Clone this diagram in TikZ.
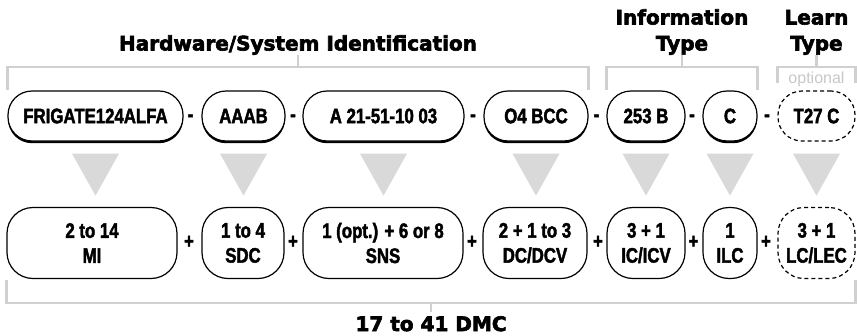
\documentclass[tikz,border=0pt]{standalone}
\usepackage{fontspec}
\usetikzlibrary{shadows,calc}
\newfontfamily\segfont[FakeStretch=0.8, BoldFeatures={FakeBold=2}]{Liberation Sans}
\newfontfamily\notefont{Liberation Sans}
\newfontfamily\headfont[BoldFeatures={FakeBold=3}]{DejaVu Sans}
\definecolor{linegrey}{RGB}{208,208,208}
\definecolor{wedgegrey}{RGB}{217,217,217}
\tikzstyle{field}=[draw, fill=white, line width=1.2pt, inner sep=0pt, align=center,
  font=\segfont\bfseries\fontsize{21}{25}\selectfont]
\tikzstyle{segment}=[field, minimum height=50pt, rounded corners=24pt,
  drop shadow={shadow xshift=0pt, shadow yshift=-2.2pt, fill=black, opacity=1}]
\tikzstyle{optsegment}=[field, minimum height=50pt, rounded corners=24pt,
  dash pattern=on 4pt off 3pt]
\tikzstyle{part}=[field, minimum height=71pt, rounded corners=26pt]
\tikzstyle{optpart}=[part, dash pattern=on 4pt off 3pt]
\tikzstyle{joiner}=[inner sep=0pt, font=\segfont\bfseries\fontsize{21}{25}\selectfont]
\tikzstyle{heading}=[inner sep=0pt, align=center,
  font=\headfont\bfseries\fontsize{20}{26}\selectfont]
\tikzstyle{bracket}=[draw=linegrey, line width=2.5pt]
\newcommand{\idsegment}[4]{node (t#1) [#2, minimum width=#3pt] {#4}}
\newcommand{\dmcpart}[4]{node (b#1) [#2, minimum width=#3pt] {#4}}

\begin{document}
\begin{tikzpicture}[x=1pt,y=-1pt]
  \useasboundingbox (0,0) rectangle (857,335);
  % data module code as written
  \path (95.5,116) \idsegment{1}{segment}{175}{FRIGATE124ALFA};
  \path (243.5,116) \idsegment{2}{segment}{83}{AAAB};
  \path (383.5,116) \idsegment{3}{segment}{161}{A 21-51-10 03};
  \path (536,116) \idsegment{4}{segment}{104}{O4 BCC};
  \path (646,116) \idsegment{5}{segment}{78}{253 B};
  \path (730,116) \idsegment{6}{segment}{54}{C};
  \path (816.5,116) \idsegment{7}{optsegment}{77}{T27 C};
  % number of characters per part
  \path (92,243) \dmcpart{1}{part}{170}{2 to 14\\MI};
  \path (243,243) \dmcpart{2}{part}{82}{1 to 4\\SDC};
  \path (383,243) \dmcpart{3}{part}{160}{1 (opt.) + 6 or 8\\SNS};
  \path (535,243) \dmcpart{4}{part}{104}{2 + 1 to 3\\DC/DCV};
  \path (646,243) \dmcpart{5}{part}{78}{3 + 1\\IC/ICV};
  \path (730,243) \dmcpart{6}{part}{54}{1\\ILC};
  \path (816.5,243) \dmcpart{7}{optpart}{77}{3 + 1\\LC/LEC};

  \foreach \x [count=\i] in {190.5,293,473,596.5,692,767}
    \path (\x,118) node (dash\i) [joiner] {-};
  \foreach \x [count=\i] in {189,293,472,598,693.5,766}
    \path (\x,242) node (plus\i) [joiner] {+};
  \foreach \i in {1,...,7}
    \fill[wedgegrey] ($(t\i.south)+(-23.5,12)$) -- ($(t\i.south)+(23.5,12)$)
      -- ($(t\i.south)+(0,54)$) -- cycle;

  % groups above
  \coordinate (hwmid) at ($(t1.west)!.5!(t4.east)$);
  \coordinate (infomid) at ($(t5.west)!.5!(t6.east)$);
  \path (hwmid |- 0,55) node (hw) [heading, anchor=south] {Hardware/System Identification};
  \path (infomid |- 0,55) node (info) [heading, anchor=south] {Information\\Type};
  \path (t7 |- 0,55) node (learn) [heading, anchor=south] {Learn\\Type};
  \path (t7 |- 0,79) node (opt) [inner sep=0pt, text=black!22,
    font=\notefont\fontsize{16}{16}\selectfont] {optional};
  \draw[bracket] (t1.west |- 0,90) -- (t1.west |- 0,67) -- (t4.east |- 0,67) -- (t4.east |- 0,90);
  \draw[bracket] (hw.south |- 0,67) -- (hw.south);
  \draw[bracket] (t5.west |- 0,90) -- (t5.west |- 0,67) -- (t6.east |- 0,67) -- (t6.east |- 0,90);
  \draw[bracket] (info.south |- 0,67) -- (info.south);
  \draw[bracket] (t7.west |- 0,83) -- (t7.west |- 0,67) -- (t7.east |- 0,67) -- (t7.east |- 0,83);
  \draw[bracket] (learn.south |- 0,67) -- (learn.south);

  % total below
  \coordinate (dmcmid) at ($(b1.west)!.5!(b7.east)$);
  \path (dmcmid |- 0,316) node (dmc) [heading, anchor=north] {17 to 41 DMC};
  \draw[bracket] (b1.west |- 0,280) -- (b1.west |- 0,303) -- (b7.east |- 0,303) -- (b7.east |- 0,280);
  \draw[bracket] (dmc.north |- 0,303) -- ($(dmc.north)+(0,-4)$);
\end{tikzpicture}
\end{document}
